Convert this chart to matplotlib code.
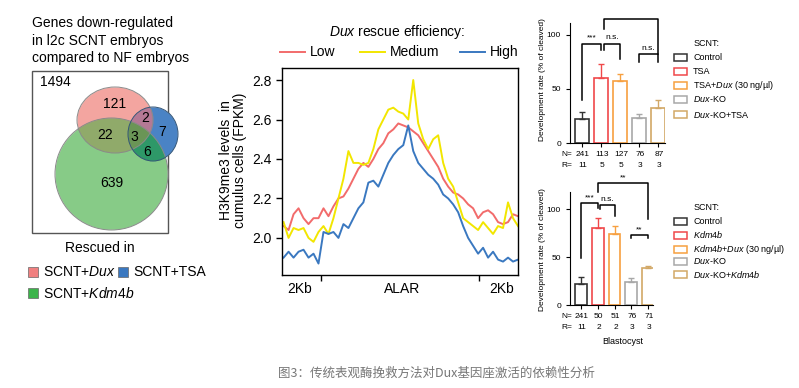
import matplotlib
matplotlib.use('Agg')
import matplotlib.pyplot as plt
import numpy as np
from matplotlib.patches import Ellipse, Rectangle

plt.rcParams['font.family'] = ['Liberation Sans', 'DejaVu Sans']
plt.rcParams['mathtext.fontset'] = 'custom'
plt.rcParams['mathtext.rm'] = 'Liberation Sans'
plt.rcParams['mathtext.it'] = 'Liberation Sans:italic'

W, H = 799, 388

# ---- venn data
venn_labels = ['SCNT+$\\it{Dux}$', 'SCNT+TSA', 'SCNT+$\\it{Kdm4b}$']
venn_total = 1494
venn_counts = [121, 2, 7, 22, 3, 6, 639]   # dux, dux&tsa, tsa, dux&kdm, all, tsa&kdm, kdm

# ---- H3K9me3 profile (FPKM)
kb = np.linspace(-2.96, 3.0, 48)
low = [2.06, 2.04, 2.12, 2.15, 2.10, 2.07, 2.10, 2.10, 2.15, 2.11, 2.16, 2.20,
       2.21, 2.25, 2.30, 2.35, 2.38, 2.36, 2.40, 2.45, 2.48, 2.53, 2.55, 2.58,
       2.57, 2.56, 2.54, 2.52, 2.48, 2.44, 2.40, 2.36, 2.30, 2.26, 2.23, 2.22,
       2.20, 2.17, 2.15, 2.10, 2.13, 2.14, 2.12, 2.08, 2.07, 2.08, 2.12, 2.11]
medium = [2.08, 2.00, 2.05, 2.04, 2.05, 2.00, 1.98, 2.03, 2.06, 2.02, 2.10, 2.20,
          2.30, 2.44, 2.38, 2.38, 2.37, 2.38, 2.45, 2.55, 2.60, 2.65, 2.66, 2.64,
          2.63, 2.60, 2.80, 2.58, 2.50, 2.45, 2.50, 2.52, 2.38, 2.30, 2.26, 2.18,
          2.10, 2.08, 2.06, 2.04, 2.08, 2.05, 2.02, 2.06, 2.05, 2.18, 2.10, 2.06]
high = [1.90, 1.93, 1.90, 1.93, 1.94, 1.90, 1.92, 1.87, 2.03, 2.02, 2.03, 2.00,
        2.07, 2.05, 2.10, 2.15, 2.18, 2.28, 2.29, 2.26, 2.32, 2.38, 2.42, 2.45,
        2.47, 2.57, 2.44, 2.38, 2.35, 2.32, 2.30, 2.27, 2.22, 2.20, 2.17, 2.13,
        2.06, 2.00, 1.96, 1.92, 1.95, 1.90, 1.93, 1.89, 1.88, 1.90, 1.88, 1.89]

# ---- development rates
top_groups = ['Control', 'TSA', 'TSA+$\\it{Dux}$ (30 ng/µl)', '$\\it{Dux}$-KO', '$\\it{Dux}$-KO+TSA']
top_rate = [22, 60, 57, 23, 32]
top_err = [7, 13, 7, 4, 8]
top_n = [241, 113, 127, 76, 87]
top_r = [11, 5, 5, 3, 3]

bot_groups = ['Control', '$\\it{Kdm4b}$', '$\\it{Kdm4b}$+$\\it{Dux}$ (30 ng/µl)', '$\\it{Dux}$-KO',
              '$\\it{Dux}$-KO+$\\it{Kdm4b}$']
bot_rate = [22, 80, 74, 24, 39]
bot_err = [7, 11, 9, 4, 2]
bot_n = [241, 50, 51, 76, 71]
bot_r = [11, 2, 2, 3, 3]

bar_cols = ['#333333', '#f0484a', '#f7a040', '#a8a8a8', '#d2a866']


def rect(x0, y0, x1, y1):
    return [x0 / W, 1 - y1 / H, (x1 - x0) / W, (y1 - y0) / H]


fig = plt.figure(figsize=(W / 100, H / 100), dpi=100)
fig.patch.set_facecolor('white')

# overlay in pixel coords
ov = fig.add_axes([0, 0, 1, 1])
ov.set_xlim(0, W)
ov.set_ylim(H, 0)
ov.axis('off')

# ---------- venn (region colours painted on a fine grid)
for i, line in enumerate(['Genes down-regulated', 'in l2c SCNT embryos', 'compared to NF embryos']):
    ov.text(32, 23 + i * 17.5, line, fontsize=10, va='center', ha='left')
ov.add_patch(Rectangle((32, 71), 136, 162, fill=False, ec='#555555', lw=1))

ell = {'dux': (115, 120, 38, 33), 'tsa': (153, 134, 25, 27), 'kdm': (111.5, 174, 56.5, 56)}
gx, gy = np.meshgrid(np.arange(50, 185, 0.25), np.arange(60, 240, 0.25))


def inside(k):
    cx, cy, rx, ry = ell[k]
    return ((gx - cx) / rx) ** 2 + ((gy - cy) / ry) ** 2 <= 1


d, t, k = inside('dux'), inside('tsa'), inside('kdm')
img = np.ones(gx.shape + (4,))
img[..., 3] = 0
region_cols = [
    (d & ~t & ~k, '#f4a6a0'), (~d & t & ~k, '#4a84c6'), (~d & ~t & k, '#88cc88'),
    (d & t & ~k, '#b47a96'), (d & ~t & k, '#90aa6a'), (~d & t & k, '#2e9868'),
    (d & t & k, '#6a9656'),
]
for m, c in region_cols:
    img[m] = matplotlib.colors.to_rgba(c)
ov.imshow(img, extent=(50, 185, 240, 60), origin='upper', interpolation='bilinear', zorder=1)
ov.set_xlim(0, W)
ov.set_ylim(H, 0)
ov.set_aspect('auto')
for key, ec in [('kdm', '#8a8a8a'), ('dux', '#8a8a8a'), ('tsa', '#335577')]:
    cx, cy, rx, ry = ell[key]
    ov.add_patch(Ellipse((cx, cy), 2 * rx, 2 * ry, fill=False, ec=ec, lw=0.7, zorder=2))

ov.text(40, 82, str(venn_total), fontsize=10, va='center', zorder=3)
venn_pos = [(115, 104), (145, 118), (162, 132), (105, 135), (134, 137), (147, 152), (112, 183)]
for (x, y), c in zip(venn_pos, venn_counts):
    ov.text(x, y, str(c), fontsize=10, ha='center', va='center', zorder=3)
ov.text(100, 248, 'Rescued in', fontsize=10, ha='center', va='center')
leg_pos = [(28, 272), (118, 272), (28, 293)]
leg_cols = ['#f08080', '#3a78c0', '#3cb44b']
for (x, y), c, lab in zip(leg_pos, leg_cols, venn_labels):
    ov.add_patch(Rectangle((x, y - 5), 10, 10, fc=c, ec='#666666', lw=0.5))
    ov.text(x + 15, y, lab, fontsize=10, va='center')

# ---------- profile
ax = fig.add_axes(rect(282, 68, 518, 275))
ax.plot(kb, low, color='#f26b6b', lw=1.4)
ax.plot(kb, medium, color='#f2e600', lw=1.4)
ax.plot(kb, high, color='#3a78c0', lw=1.4)
ax.set_xlim(-3, 3)
ax.set_ylim(1.812, 2.861)
ax.set_yticks([2.0, 2.2, 2.4, 2.6, 2.8])
ax.set_yticklabels(['2.0', '2.2', '2.4', '2.6', '2.8'], fontsize=10)
ax.set_xticks([-2, 2])
ax.set_xticklabels([])
ax.tick_params(length=4, width=1)
for s in ax.spines.values():
    s.set_linewidth(1)
ov.text(300, 289, '2Kb', fontsize=10, ha='center', va='center')
ov.text(402, 289, 'ALAR', fontsize=10, ha='center', va='center')
ov.text(502, 289, '2Kb', fontsize=10, ha='center', va='center')
ov.text(233, 160, 'H3K9me3 levels  in\ncumulus cells (FPKM)', fontsize=10, rotation=90,
        ha='center', va='center', linespacing=1.05)
ov.text(397, 32, '$\\it{Dux}$ rescue efficiency:', fontsize=10, ha='center', va='center')
for x0, c, lab in [(280, '#f26b6b', 'Low'), (360, '#f2e600', 'Medium'), (460, '#3a78c0', 'High')]:
    ov.plot([x0, x0 + 25], [52, 52], color=c, lw=1.4)
    ov.text(x0 + 30, 52, lab, fontsize=10, va='center')


# ---------- bar panels
def bar_panel(box, xlim, ylim, width, rate, err, ns, rs, brackets, n_y, ylab_xy, leg_x, leg_ys,
              groups, title_y):
    bx = fig.add_axes(rect(*box))
    pos = np.arange(len(rate))
    bx.bar(pos, rate, width=width, color='white', edgecolor=bar_cols, lw=1.2)
    for p, v, e, c in zip(pos, rate, err, bar_cols):
        bx.errorbar(p, v, yerr=[[0], [e]], color=c, capsize=2.5, lw=1, capthick=1)
    bx.set_xlim(*xlim)
    bx.set_ylim(*ylim)
    bx.set_yticks([0, 50, 100])
    bx.set_yticklabels(['0', '50', '100'], fontsize=6)
    bx.set_xticks(pos)
    bx.set_xticklabels([])
    bx.tick_params(length=3, width=0.8)
    bx.spines['top'].set_visible(False)
    bx.spines['right'].set_visible(False)
    for i, j, top, l, r, lab in brackets:
        bx.plot([i, i, j, j], [l, top, top, r], color='black', lw=1.1, clip_on=False)
        if lab:
            bx.text((i + j) / 2, top + 2, lab, fontsize=6, ha='center', va='bottom', clip_on=False)
    # N / R rows
    x0, y0, x1, y1 = box
    step = (x1 - x0) / (xlim[1] - xlim[0])
    ov.text(561, n_y, 'N=', fontsize=6, ha='left', va='center')
    ov.text(561, n_y + 10.5, 'R=', fontsize=6, ha='left', va='center')
    for p, n, r in zip(pos, ns, rs):
        px = x0 + (p - xlim[0]) * step
        ov.text(px + 1, n_y, str(n), fontsize=6, ha='center', va='center')
        ov.text(px + 1, n_y + 10.5, str(r), fontsize=6, ha='center', va='center')
    ov.text(ylab_xy[0], ylab_xy[1], 'Development rate (% of cleaved)', fontsize=6, rotation=90,
            ha='center', va='center')
    ov.text(leg_x + 20, title_y, 'SCNT:', fontsize=6.5, va='center')
    for y, c, g in zip(leg_ys, bar_cols, groups):
        ov.add_patch(Rectangle((leg_x, y - 3.5), 13, 7, fill=False, ec=c, lw=1.1))
        ov.text(leg_x + 19, y, g, fontsize=6.5, va='center')
    return bx


top_br = [(0, 1, 92, 40, 86, '***'), (1.15, 2, 92, 86, 78, 'n.s.'),
          (1.15, 4, 115, 105, 82, ''), (3, 4, 82, 75, 75, 'n.s.')]
bar_panel((570, 23, 665, 143), (-0.63, 4.37), (0, 111), 0.75, top_rate, top_err, top_n, top_r,
          top_br, 155, (542, 80), 674, [57, 71, 85, 99, 114], top_groups, 43)

bot_br = [(0, 1, 106, 49, 101, '***'), (1.15, 2, 104, 100, 93, 'n.s.'),
          (1, 4, 127, 118, 90, '**'), (3, 4, 73, 70, 70, '**')]
bar_panel((570, 192, 653, 305), (-0.66, 4.3), (0, 118), 0.7, bot_rate, bot_err, bot_n, bot_r,
          bot_br, 317, (543, 250), 674, [221, 235, 249, 261, 274], bot_groups, 207)
ov.text(623, 341, 'Blastocyst', fontsize=6.5, ha='center', va='center')

# caption
ov.text(436, 373, '图3：传统表观酶挽救方法对Dux基因座激活的依赖性分析', fontsize=9, color='#777777',
        ha='center', va='center', family=['Noto Sans CJK SC', 'DejaVu Sans'])

fig.savefig('out.png', dpi=100, facecolor='white')
